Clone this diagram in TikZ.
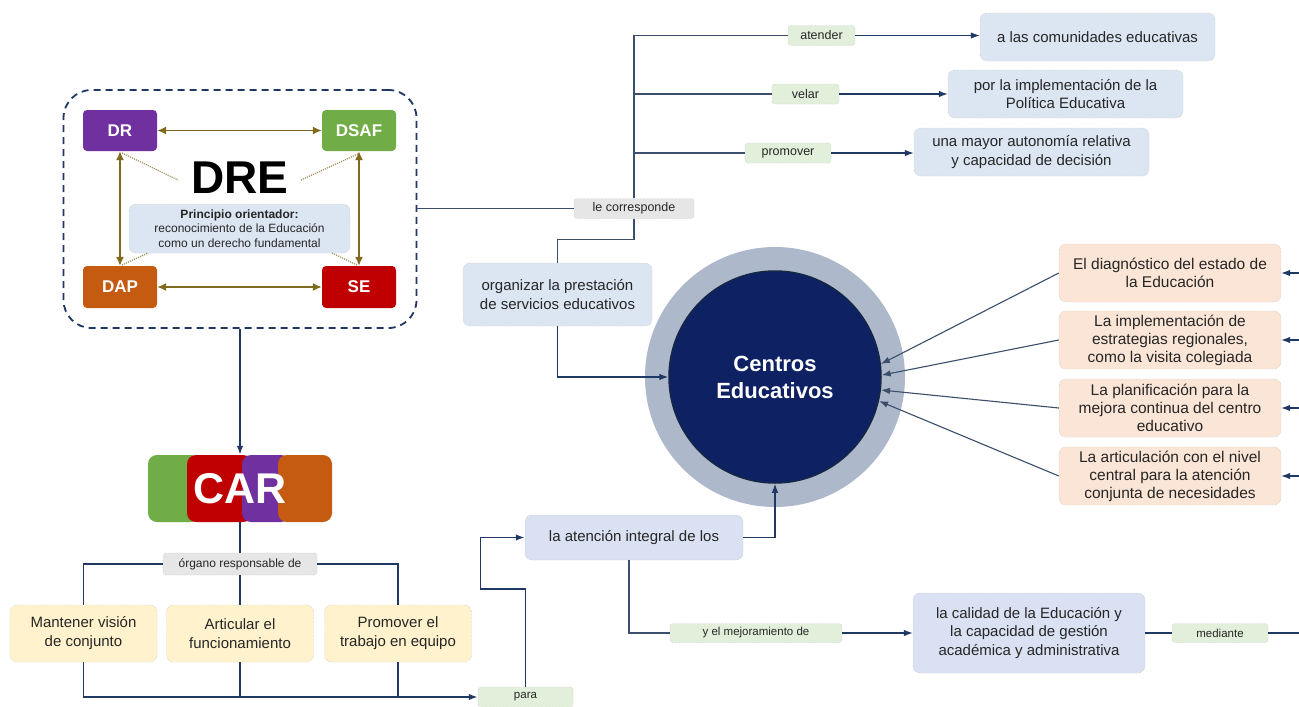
\documentclass[tikz,border=0pt]{standalone}
\usepackage{fontspec}
\setmainfont{Liberation Sans}
\usetikzlibrary{arrows.meta}
\definecolor{navy}{HTML}{1F3864}
\definecolor{lnav}{HTML}{3B4E6B}
\definecolor{cpurple}{HTML}{7030A0}
\definecolor{cgreen}{HTML}{70AD47}
\definecolor{corange}{HTML}{C55A11}
\definecolor{cred}{HTML}{C00000}
\definecolor{olive}{HTML}{806A1E}
\definecolor{dotc}{HTML}{A89460}
\definecolor{lblue}{HTML}{DCE6F2}
\definecolor{lblue2}{HTML}{D9E1F2}
\definecolor{tgreen}{HTML}{E2EFDA}
\definecolor{tgray}{HTML}{E7E6E6}
\definecolor{peach}{HTML}{FBE5D6}
\definecolor{yell}{HTML}{FFF2CC}
\definecolor{ring}{HTML}{ADB9CA}
\definecolor{cnavy}{HTML}{0E2163}
\definecolor{txt}{HTML}{262626}
\newcommand\myfs[2]{\fontsize{#1}{#2}\selectfont}
\begin{document}
\begin{tikzpicture}[x=1pt,y=-1pt,
  frame/.style={draw=navy, line width=1.8pt, dash pattern=on 7pt off 5pt, rounded corners=28pt},
  dbox/.style={rounded corners=4pt, minimum width=74pt, minimum height=41pt, text=white, font=\bfseries\myfs{17}{20}, inner sep=0pt},
  ebox/.style={rounded corners=7pt, draw=gray!60, densely dotted, text=txt, align=center, inner sep=0pt},
  tag/.style={ebox, rounded corners=3pt, minimum height=20pt, font=\myfs{12.5}{14}},
  ntag/.style={ebox, rounded corners=3pt, minimum height=19pt, font=\myfs{11.5}{13}, fill=tgreen},
  bb/.style={ebox, fill=lblue, font=\myfs{15}{18.5}},
  pb/.style={ebox, fill=peach, font=\myfs{15.5}{18}, minimum width=222pt, minimum height=58pt},
  yb/.style={ebox, fill=yell, font=\myfs{15}{19}, minimum width=147pt, minimum height=57pt},
  oarr/.style={olive, line width=1.6pt, {Latex[length=9pt,width=8pt]}-{Latex[length=9pt,width=8pt]}},
  dotl/.style={dotc, line width=1.2pt, densely dotted},
  arr/.style={-{Latex[length=9pt,width=6.5pt]}},
  nl/.style={navy, line width=1.7pt},
  gl/.style={lnav, line width=1.1pt}
]
\useasboundingbox (0,0) rectangle (1299,707);
\fill[white] (0,0) rectangle (1299,707);

% ---------- DRE frame ----------
\node[frame, minimum width=353pt, minimum height=238pt] (dre) at (240,209) {};
\node[dbox, fill=cpurple] (dr) at (120,130.5) {DR};
\node[dbox, fill=cgreen] (dsaf) at (359,130.5) {DSAF};
\node[dbox, fill=corange, minimum height=42pt] (dap) at (120,287) {DAP};
\node[dbox, fill=cred, minimum height=42pt] (se) at (359,287) {SE};
\node[font=\bfseries\myfs{46}{50}, inner sep=0pt] (dretitle) at (240,178) {DRE};
\node[ebox, fill=lblue, minimum width=221pt, minimum height=49pt, font=\myfs{12}{14.5}] (prin) at (239.5,228.5)
  {\textbf{Principio orientador:}\\reconocimiento de la Educación\\como un derecho fundamental};
\draw[oarr] (dr.east) -- (dsaf.west);
\draw[oarr] (dap.east) -- (se.west);
\draw[oarr] (dr.south) -- (dap.north);
\draw[oarr] (dsaf.south) -- (se.north);
\coordinate (d1) at (178,180);
\coordinate (d2) at (301,180);
\coordinate (d3) at (148,253);
\coordinate (d4) at (332,253);
\draw[dotl] (122,153) -- (d1);
\draw[dotl] (358,154) -- (d2);
\draw[dotl] (122,265) -- (d3);
\draw[dotl] (357,265) -- (d4);

% ---------- top right ----------
\node[tag, fill=tgray, minimum width=120pt] (lecorr) at (634,208.5) {le corresponde};
\node[tag, fill=tgreen, minimum width=67pt] (atender) at (821.5,35.5) {atender};
\node[tag, fill=tgreen, minimum width=67pt] (velar) at (805.5,94) {velar};
\node[tag, fill=tgreen, minimum width=86pt] (promover) at (788,153) {promover};
\node[bb, minimum width=235pt, minimum height=48pt] (bat) at (1097.5,37) {a las comunidades educativas};
\node[bb, minimum width=235pt, minimum height=48pt] (bve) at (1065.5,94) {por la implementación de la\\Política Educativa};
\node[bb, minimum width=235pt, minimum height=48pt] (bpr) at (1031.5,152) {una mayor autonomía relativa\\y capacidad de decisión};
\draw[gl] (dre.east |- lecorr.west) -- (lecorr.west);
\draw[gl] (lecorr.north) |- (atender.west);
\draw[gl] (lecorr.north) |- (velar.west);
\draw[gl] (lecorr.north) |- (promover.west);
\draw[gl, navy, arr] (atender.east) -- (atender.east -| bat.west);
\draw[gl, navy, arr] (velar.east) -- (velar.east -| bve.west);
\draw[gl, navy, arr] (promover.east) -- (promover.east -| bpr.west);

% ---------- circle ----------
\node[circle, fill=ring, minimum size=260pt, inner sep=0pt] (cout) at (775,377) {};
\node[circle, fill=cnavy, draw=navy!70!black, line width=1.5pt, minimum size=212pt, inner sep=0pt, text=white, font=\bfseries\myfs{22}{27}, align=center] (cin) at (775,377) {Centros\\Educativos};

\node[bb, minimum width=189pt, minimum height=63pt] (org) at (557.5,294.5) {organizar la prestación\\de servicios educativos};
\draw[gl] (lecorr.south) -- ++(0,21) -| (org.north);
\draw[gl, navy, arr] (org.south) |- (cin.west);

% ---------- right peach boxes ----------
\node[pb] (p1) at (1170,273) {El diagnóstico del estado de\\la Educación};
\node[pb] (p2) at (1170,340) {La implementación de\\estrategias regionales,\\como la visita colegiada};
\node[pb] (p3) at (1170,408) {La planificación para la\\mejora continua del centro\\educativo};
\node[pb] (p4) at (1170,476) {La articulación con el nivel\\central para la atención\\conjunta de necesidades};
\draw[gl, arr] (p1.west) -- (cin.7);
\draw[gl, arr] (p2.west) -- (cin.1);
\draw[gl, arr] (p3.west) -- (cin.-7);
\draw[gl, arr] (p4.west) -- (cin.-13);
\coordinate (r1) at (1299,273);
\coordinate (r2) at (1299,340);
\coordinate (r3) at (1299,408);
\coordinate (r4) at (1299,476);
\draw[gl, navy, arr] (r1) -- (p1.east);
\draw[gl, navy, arr] (r2) -- (p2.east);
\draw[gl, navy, arr] (r3) -- (p3.east);
\draw[gl, navy, arr] (r4) -- (p4.east);

% ---------- bottom middle ----------
\node[ebox, fill=lblue2, font=\myfs{15}{18}, minimum width=218pt, minimum height=45pt] (aten) at (634,537.5) {la atención integral de los};
\node[ntag, minimum width=172pt] (mejor) at (756,633) {y el mejoramiento de};
\node[bb, fill=lblue2, minimum width=232pt, minimum height=80pt] (cal) at (1029,633) {la calidad de la Educación y\\la capacidad de gestión\\académica y administrativa};
\node[ntag, minimum width=96pt] (med) at (1220,633) {mediante};
\coordinate (rm) at (1299,633);
\draw[gl, navy, arr] (aten.east) -| (cin.south);
\draw[gl] ([xshift=-5pt]aten.south) |- (mejor.west);
\draw[gl, navy, arr] (mejor.east) -- (cal.west);
\draw[gl, navy, line width=1.4pt] (cal.east) -- (med.west);
\draw[gl, navy, line width=1.4pt] (med.east) -- (rm);

% ---------- CAR ----------
\fill[cgreen, rounded corners=9pt] (148,455) rectangle (200,522);
\fill[cred, rounded corners=9pt] (187,455) rectangle (252,522);
\fill[cpurple, rounded corners=9pt] (242,455) rectangle (290,522);
\fill[corange, rounded corners=9pt] (278,455) rectangle (332,522);
\node[minimum width=184pt, minimum height=67pt, inner sep=0pt, text=white, font=\bfseries\myfs{43}{46}] (car) at (240,488.5) {CAR};
\draw[nl, arr] (dre.south) -- (car.north);
\node[tag, fill=tgray, minimum width=154pt, minimum height=22pt, font=\myfs{12}{14}] (organo) at (240,564) {órgano responsable de};
\node[yb] (y1) at (83.5,633.5) {Mantener visión\\de conjunto};
\node[yb] (y2) at (240,633.5) {Articular el\\funcionamiento};
\node[yb] (y3) at (398,633.5) {Promover el\\trabajo en equipo};
\node[ntag, minimum width=95pt, minimum height=20pt] (para) at (525.5,697) {para};
\draw[nl] (car.south) -- (organo.north);
\draw[nl] (organo.west) -| (y1.north);
\draw[nl] (organo.east) -| (y3.north);
\draw[nl] (organo.south) -- (y2.north);
\draw[nl, arr] (y1.south) |- (para.west);
\draw[nl] (y2.south) -- (y2.south |- para.west);
\draw[nl] (y3.south) -- (y3.south |- para.west);
\draw[nl, arr] (para.north) -- ++(0,-98) -- ++(-45,0) |- (aten.west);
\end{tikzpicture}
\end{document}
